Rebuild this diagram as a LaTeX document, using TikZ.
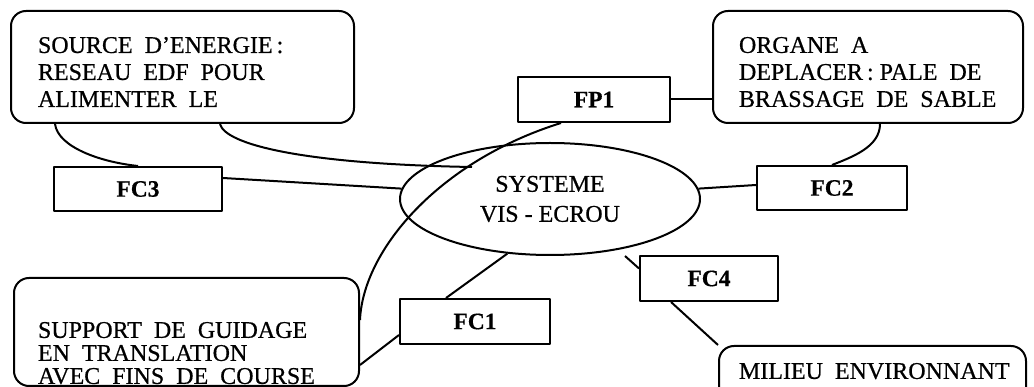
\documentclass[tikz,border=0pt]{standalone}
\usepackage{fontspec}
\setmainfont{Liberation Serif}
\newfontfamily\txtfont{Liberation Serif}[FakeBold=0.6]
\newfontfamily\lblfont{Liberation Serif Bold}[FakeBold=0.4]
\usetikzlibrary{calc,shapes.geometric}
\newcommand{\boxtxt}[5]{% width, height, top gap, left pad, content
\begin{minipage}[t][#2][t]{#1}\vspace*{#3}\leftskip=#4\relax #5\par\end{minipage}}
\begin{document}
\begin{tikzpicture}[x=1pt,y=-1pt,
  every path/.style={line width=2pt,line join=round},
  rbox/.style={draw,rounded corners=15pt,inner sep=0pt,anchor=north west,line width=2pt},
  fcbox/.style={draw,rectangle,inner sep=0pt,line width=2pt,
    font={\lblfont\fontsize{23.5}{26}\selectfont}},
  sysel/.style={draw,ellipse,inner sep=0pt,line width=2pt,align=center,
    font={\txtfont\fontsize{24}{30}\selectfont}}]
\useasboundingbox (0,0) rectangle (1034,387);
% boxes
\node[rbox] (src) at (10,10) {\boxtxt{343pt}{112pt}{26pt}{27pt}{\txtfont\fontsize{24}{27}\selectfont SOURCE\ \ D’ENERGIE\,:\\ RESEAU\ \ EDF\ \ POUR\\ ALIMENTER\ \ LE}};
\node[rbox] (org) at (712,10) {\boxtxt{310pt}{112pt}{26pt}{26pt}{\txtfont\fontsize{24}{27}\selectfont ORGANE\ \ A\\ DEPLACER\,: PALE\ \ DE\\ BRASSAGE\ \ DE\ \ SABLE}};
\node[rbox] (sup) at (13,277) {\boxtxt{345pt}{108pt}{44pt}{24pt}{\txtfont\fontsize{24}{23}\selectfont SUPPORT\ \ DE\ \ GUIDAGE\\ EN\ \ TRANSLATION\\ AVEC\ \ FINS\ \ DE\ \ COURSE}};
\node[rbox] (mil) at (718,345) {\boxtxt{307pt}{60pt}{17pt}{20pt}{\txtfont\fontsize{24}{28}\selectfont MILIEU\ \ ENVIRONNANT}};
\node[sysel,minimum width=300pt,minimum height=112pt] (sys) at (550,199) {SYSTEME\\ VIS - ECROU};
\node[fcbox,minimum width=152pt,minimum height=45pt] (fp1) at (594,99.5) {FP1};
\node[fcbox,minimum width=168pt,minimum height=44pt] (fc3) at (138,189) {FC3};
\node[fcbox,minimum width=150pt,minimum height=44pt] (fc2) at (832,188) {FC2};
\node[fcbox,minimum width=150pt,minimum height=45pt] (fc1) at (475,321.5) {FC1};
\node[fcbox,minimum width=138pt,minimum height=45pt] (fc4) at (709,278.5) {FC4};
\coordinate (srcend) at (472,167);
\coordinate (c4) at (625,256);
% connectors
\draw ([xshift=45pt]src.south west) .. controls +(3,23) and +(-38,-4) .. (fc3.north);
\draw ([xshift=210pt]src.south west) .. controls +(5,20) and +(-172,-3) .. (srcend);
\draw ([yshift=11pt]fc3.east) -- (sys.176);
\draw (sys.4) -- ([yshift=3pt]fc2.west);
\draw ([xshift=168pt]org.south west) .. controls +(0,23) and +(20,-8) .. (fc2.north);
\draw (fp1.east) -- (fp1.east -| org.west);
\draw ([yshift=-43pt]sup.north east) .. controls +(3,-70) and +(-122,38) .. ([xshift=-33pt]fp1.south);
\draw (sys.-128) -- ([xshift=-29pt]fc1.north);
\draw ([yshift=-13.5pt]fc1.west) -- ([yshift=-88pt]sup.north east);
\draw (c4) -- ([yshift=10pt]fc4.west);
\draw ([xshift=-38pt]fc4.south) -- (mil.north west);
\end{tikzpicture}
\end{document}
